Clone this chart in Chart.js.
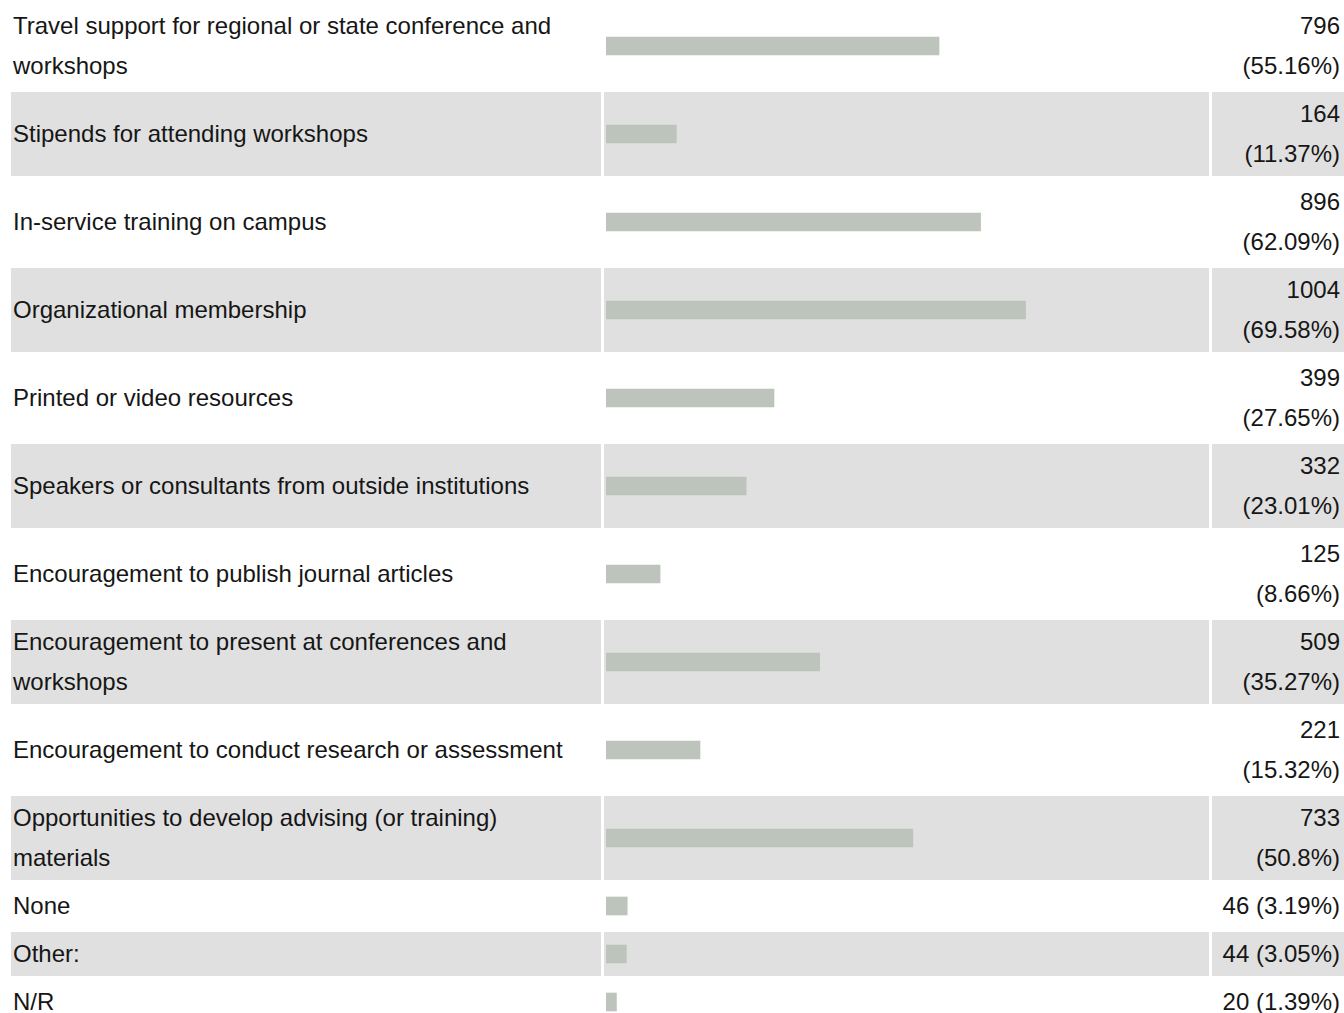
<!DOCTYPE html>
<html>
<head>
<meta charset="utf-8">
<script src="https://cdn.jsdelivr.net/npm/chart.js@4"></script>
<style>
  html, body { margin: 0; padding: 0; background: #fff; }
  body { width: 1344px; height: 1013px; overflow: hidden; font-family: "Liberation Sans", Arial, sans-serif; font-size: 24px; color: #161616; }
  #grid { display: grid; grid-template-columns: 590px 605px 132px; column-gap: 3px; row-gap: 4px; margin: 4px 0 0 11px; }
  .cell { line-height: 40px; padding: 2px 0; }
  .lbl { padding-left: 2px; display: flex; align-items: center; }
  .bar { position: relative; }
  .bar .wrap { position: absolute; inset: 0; }
  .val { text-align: right; padding-right: 4px; display: flex; align-items: center; justify-content: flex-end; }
  .alt { background: #e0e0e0; }
</style>
</head>
<body>
<div id="grid"></div>
<script>
const categories = [
  'Travel support for regional or state conference and workshops',
  'Stipends for attending workshops',
  'In-service training on campus',
  'Organizational membership',
  'Printed or video resources',
  'Speakers or consultants from outside institutions',
  'Encouragement to publish journal articles',
  'Encouragement to present at conferences and workshops',
  'Encouragement to conduct research or assessment',
  'Opportunities to develop advising (or training) materials',
  'None',
  'Other:',
  'N/R'
];
const counts = [796, 164, 896, 1004, 399, 332, 125, 509, 221, 733, 46, 44, 20];
const percents = [55.16, 11.37, 62.09, 69.58, 27.65, 23.01, 8.66, 35.27, 15.32, 50.8, 3.19, 3.05, 1.39];

const BAR_COLOR = '#bdc4bb';
const grid = document.getElementById('grid');

function cell(cls, text, alt) {
  const d = document.createElement('div');
  d.className = 'cell ' + cls + (alt ? ' alt' : '');
  if (text != null) {
    const s = document.createElement('span');
    s.textContent = text;
    d.appendChild(s);
  }
  grid.appendChild(d);
  return d;
}

categories.forEach((name, i) => {
  const alt = i % 2 === 1;
  cell('lbl', name, alt);
  const barCell = cell('bar', null, alt);
  cell('val', `${counts[i]} (${percents[i]}%)`, alt);

  const wrap = document.createElement('div');
  wrap.className = 'wrap';
  const canvas = document.createElement('canvas');
  wrap.appendChild(canvas);
  barCell.appendChild(wrap);

  new Chart(canvas, {
    type: 'bar',
    data: {
      labels: [name],
      datasets: [{ data: [percents[i]], backgroundColor: BAR_COLOR, barThickness: 18, base: -0.35, borderWidth: 0 }]
    },
    options: {
      indexAxis: 'y',
      responsive: true, maintainAspectRatio: false, animation: false,
      layout: { padding: { left: 2, right: 1, top: 0, bottom: 0 } },
      plugins: { legend: { display: false }, tooltip: { enabled: false } },
      scales: {
        x: { display: false, min: -0.35, max: 100 },
        y: { display: false }
      }
    }
  });
});
</script>
</body>
</html>
